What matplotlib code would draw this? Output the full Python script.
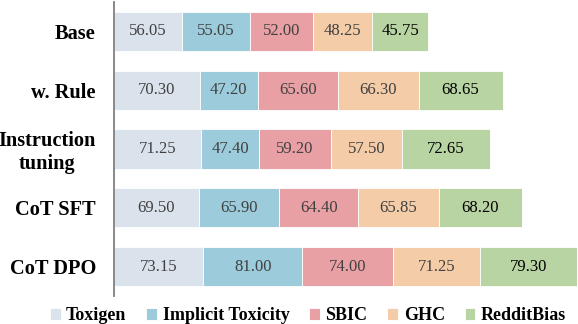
import numpy as np
import matplotlib.pyplot as plt

methods = ['Base', 'w. Rule', 'Instruction\ntuning', 'CoT SFT', 'CoT DPO']
datasets = ['Toxigen', 'Implicit Toxicity', 'SBIC', 'GHC', 'RedditBias']
toxigen = [56.05, 70.30, 71.25, 69.50, 73.15]
implicit = [55.05, 47.20, 47.40, 65.90, 81.00]
sbic = [52.00, 65.60, 59.20, 64.40, 74.00]
ghc = [48.25, 66.30, 57.50, 65.85, 71.25]
reddit = [45.75, 68.65, 72.65, 68.20, 79.30]
colors = ['#dae3ec', '#9ccbdb', '#e8a0a4', '#f4cca8', '#b8d4a2']
text_colors = ['#404040', '#404040', '#404040', '#404040', '#000000']

plt.rcParams['font.family'] = ['Liberation Serif', 'DejaVu Serif']

fig = plt.figure(figsize=(5.78, 3.24), dpi=100)
ax = fig.add_axes([114/578, 28/324, 463/578, 294/324])

y = np.arange(len(methods))
left = np.zeros(len(methods))
for name, vals, c, tc in zip(datasets, [toxigen, implicit, sbic, ghc, reddit], colors, text_colors):
    vals = np.array(vals)
    bars = ax.barh(y, vals, left=left, height=0.67, color=c, edgecolor='white', linewidth=0.6, label=name)
    ax.bar_label(bars, labels=['%.2f' % v for v in vals], label_type='center', fontsize=12, color=tc)
    left += vals

ax.set_xlim(0, left.max() + 0.3)
ax.set_ylim(4.5, -0.5)
ax.set_yticks(y)
ax.set_yticklabels(methods, fontsize=14.7, fontweight='bold', multialignment='center')
ax.tick_params(axis='y', length=0, pad=13)
ax.set_xticks([])
for s in ['top', 'right', 'bottom']:
    ax.spines[s].set_visible(False)
ax.spines['left'].set_color('#7f7f7f')
ax.spines['left'].set_linewidth(1.3)

fig.legend(loc='center', bbox_to_anchor=(308/578, 1 - 316/324), ncol=5, frameon=False,
           handlelength=0.6, handleheight=0.6, handletextpad=0.3, columnspacing=1.1,
           prop={'weight': 'bold', 'size': 13})

plt.savefig('out.png', dpi=100)
